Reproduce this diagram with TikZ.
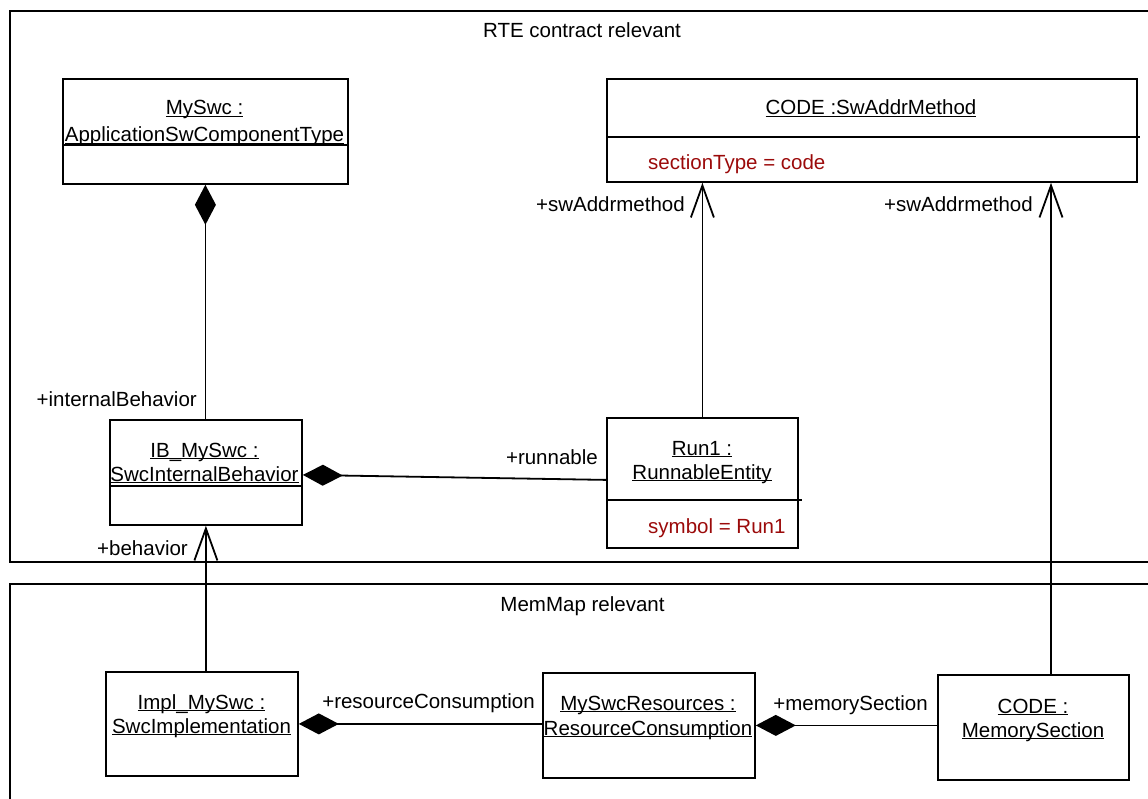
\documentclass[tikz,border=0pt]{standalone}
\usepackage{fontspec}
\setmainfont{Liberation Sans}
\usetikzlibrary{arrows.meta,calc}
\definecolor{attr}{RGB}{155,10,10}
\newcommand\ulname[1]{\underline{\smash{#1}}}
\begin{document}
\begin{tikzpicture}[x=1pt,y=-1pt,
  every node/.style={font=\fontsize{20.5}{24}\selectfont, inner sep=0pt},
  box/.style={draw, line width=1.8pt, anchor=north west},
  divider/.style={line width=1.6pt},
  frame/.style={line width=2pt},
  conn/.style={line width=1.8pt},
  comp/.style={conn, {Diamond[length=40pt,width=21pt]}-},
  nav/.style={conn, -{Straight Barb[length=32pt,width=23pt]}},
  lbl/.style={anchor=base east},
  attrtxt/.style={anchor=base west, text=attr},
  nm/.style={anchor=base}
]
\useasboundingbox (0,0) rectangle (1148,799);

% frames
\draw[frame] (1150,11) -- (10,11) -- (10,562) -- (1150,562);
\draw[frame] (1150,584) -- (10,584) -- (10,801);
\node[nm] (rte) at (582,38) {RTE contract relevant};
\node[nm] (memmap) at (582.5,611) {MemMap relevant};

% boxes
\node[box, minimum width=285pt, minimum height=105pt] (myswc) at (62,78) {};
\draw[divider] (myswc.west |- 0,145) -- (myswc.east |- 0,145);
\node[nm] (myswc-a) at (204.5,115) {\ulname{MySwc :}};
\node[nm] (myswc-b) at (204.5,142) {\ulname{ApplicationSwComponentType}};

\node[box, minimum width=530pt, minimum height=103pt] (code) at (606,78) {};
\draw[divider] (code.west |- 0,137) -- ($(code.east |- 0,137)+(2,0)$);
\node[nm] (code-a) at (871,115) {\ulname{CODE :SwAddrMethod}};
\node[attrtxt] (code-attr) at (648,170) {sectionType = code};

\node[box, minimum width=192pt, minimum height=105pt] (ib) at (109,419) {};
\draw[divider] (ib.west |- 0,486) -- (ib.east |- 0,486);
\node[nm] (ib-a) at (204.5,457) {\ulname{IB\_MySwc :}};
\node[nm] (ib-b) at (204.5,481) {\ulname{SwcInternalBehavior}};

\node[box, minimum width=191pt, minimum height=130pt] (run1) at (606,417) {};
\draw[divider] (run1.west |- 0,500) -- ($(run1.east |- 0,500)+(3,0)$);
\node[nm] (run1-a) at (702,455) {\ulname{Run1 :}};
\node[nm] (run1-b) at (702,479) {\ulname{RunnableEntity}};
\node[attrtxt] (run1-attr) at (648,533) {symbol = Run1};

\node[box, minimum width=192pt, minimum height=104pt] (impl) at (105,671) {};
\node[nm] (impl-a) at (201.5,709) {\ulname{Impl\_MySwc :}};
\node[nm] (impl-b) at (201.5,733) {\ulname{SwcImplementation}};

\node[box, minimum width=212pt, minimum height=105pt] (res) at (542,672) {};
\node[nm] (res-a) at (648,710) {\ulname{MySwcResources :}};
\node[nm] (res-b) at (648,735) {\ulname{ResourceConsumption}};

\node[box, minimum width=191pt, minimum height=105pt] (mem) at (937,674) {};
\node[nm] (mem-a) at (1033,713) {\ulname{CODE :}};
\node[nm] (mem-b) at (1033,737) {\ulname{MemorySection}};

% connectors
\draw[comp] (myswc.south) -- (myswc.south |- ib.north);
\draw[comp] ($(ib.east)+(0,2.5)$) -- ($(run1.west)+(0,-3)$);
\draw[nav] (run1.north) -- (run1.north |- code.south);
\coordinate (memtop) at ($(mem.north west)+(114,0)$);
\draw[nav] (memtop) -- (memtop |- code.south);
\draw[nav] (ib.south |- impl.north) -- (ib.south);
\draw[comp] (impl.east) -- (impl.east -| res.west);
\draw[comp] (res.east) -- (res.east -| mem.west);

% role labels
\node[lbl] (l-ib) at (197,406) {+internalBehavior};
\node[lbl] (l-run) at (598,464) {+runnable};
\node[lbl] (l-sw1) at (685,212) {+swAddrmethod};
\node[lbl] (l-sw2) at (1033,212) {+swAddrmethod};
\node[lbl] (l-beh) at (188,555) {+behavior};
\node[lbl] (l-rc) at (535,708) {+resourceConsumption};
\node[lbl] (l-ms) at (928,710) {+memorySection};
\end{tikzpicture}
\end{document}
